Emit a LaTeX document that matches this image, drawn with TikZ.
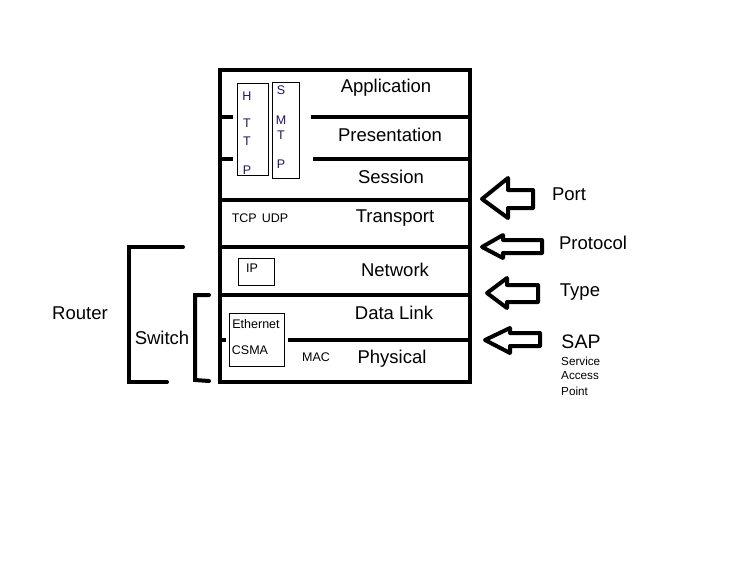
\documentclass[tikz,border=0pt]{standalone}
\usepackage{fontspec}
\setmainfont{Liberation Sans}
\definecolor{letter}{RGB}{40,20,90}
\begin{document}
\begin{tikzpicture}[x=1pt,y=-1pt,
  thick line/.style={line width=4pt},
  layer/.style={font=\fontsize{18.5}{20}\selectfont, inner sep=0pt},
  small/.style={font=\fontsize{12.5}{14}\selectfont, inner sep=0pt},
  tiny/.style={font=\fontsize{11.7}{13}\selectfont, inner sep=0pt, anchor=west},
  thin box/.style={draw, line width=0.9pt},
  blockarrow/.style={line width=4pt, line join=round}]
\useasboundingbox[fill=white] (0,0) rectangle (744,560);

% main frame
\draw[thick line] (220,70) -- (470,70);
\draw[thick line] (220,382) -- (470,382);
\draw[thick line] (220,68) -- (220,384);
\draw[thick line] (470,68) -- (470,384);

% layer separators
\draw[thick line] (220,117) -- (233,117);
\draw[thick line] (311,117) -- (470,117);
\draw[thick line] (220,159) -- (233,159);
\draw[thick line] (313,159) -- (470,159);
\draw[thick line] (220,200) -- (470,200);
\draw[thick line] (220,247) -- (470,247);
\draw[thick line] (220,295) -- (470,295);
\draw[thick line] (220,340) -- (226,340);
\draw[thick line] (288,340) -- (470,340);

% layer names
\node[layer] (app) at (386,88) {Application};
\node[layer] (pres) at (390,135) {Presentation};
\node[layer] (sess) at (391,177) {Session};
\node[layer] (trans) at (395,218) {Transport};
\node[layer] (net) at (395,270) {Network};
\node[layer] (dl) at (394,313) {Data Link};
\node[layer] (phy) at (392,359) {Physical};

% HTTP / SMTP boxes
\draw[thin box] (237,83) rectangle (268,175);
\draw[thin box] (272,82) rectangle (299,178);
\node[small, text=letter] (h1) at (247,96) {H};
\node[small, text=letter] (h2) at (247,123) {T};
\node[small, text=letter] (h3) at (247,141) {T};
\node[small, text=letter] (h4) at (247,170) {P};
\node[small, text=letter] (s1) at (281,90) {S};
\node[small, text=letter] (s2) at (281,120) {M};
\node[small, text=letter] (s3) at (281,135) {T};
\node[small, text=letter] (s4) at (281,164) {P};

\node[small] (tcp) at (260,218) {TCP\hspace{5pt}UDP};

\draw[thin box] (238,258) rectangle (274,285);
\node[small] (ip) at (252,268) {IP};

\draw[thin box] (229,313) rectangle (284,366);
\node[small] (eth) at (256,324) {Ethernet};
\node[small] (csma) at (250,350) {CSMA};
\node[small] (mac) at (316,357) {MAC};

% block arrows
\draw[blockarrow] (482,199) -- (508,178) -- (508,190) -- (533,190) -- (533,208) -- (508,208) -- (508,218) -- cycle;
\draw[blockarrow] (482,247) -- (503,235) -- (503,240) -- (542,240) -- (542,253) -- (503,253) -- (503,258) -- cycle;
\draw[blockarrow] (487,293) -- (507,278) -- (507,285) -- (538,285) -- (538,302) -- (507,302) -- (507,308) -- cycle;
\draw[blockarrow] (485,340) -- (510,328) -- (510,333) -- (540,333) -- (540,346) -- (510,346) -- (510,353) -- cycle;

\node[layer] (port) at (569,194) {Port};
\node[layer] (proto) at (593,243) {Protocol};
\node[layer] (type) at (580,292) {Type};
\node[layer, font=\fontsize{19.5}{21}\selectfont] (sap) at (581,342) {SAP};
\node[tiny] (svc) at (561,361) {Service};
\node[tiny] (acc) at (561,376) {Access};
\node[tiny] (pt) at (561,391) {Point};

% brackets
\draw[thick line, line cap=round] (183,247) -- (129,247) -- (129,382) -- (167,382);
\draw[thick line, line cap=round] (209,295) -- (195,295) -- (195,380) -- (209,381);
\node[layer] (router) at (80,313) {Router};
\node[layer] (switch) at (162,338) {Switch};
\end{tikzpicture}
\end{document}
